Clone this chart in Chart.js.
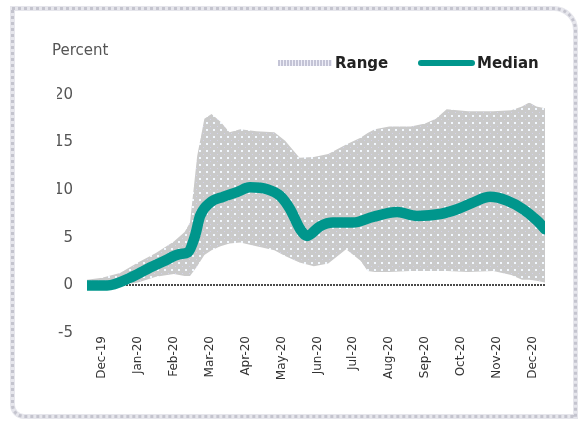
<!DOCTYPE html>
<html>
<head>
  <title>Range and Median</title>
  <script src="https://cdn.jsdelivr.net/npm/chart.js"></script>
  <style>
    body {
      margin: 0;
      background: #fff;
      font-family: "DejaVu Sans", sans-serif;
    }
    #wrap { position: relative; width: 578px; height: 421px; overflow: hidden; }
    #frame {
      position: absolute; left: 10px; top: 6px;
      width: 568px; height: 413px; box-sizing: border-box;
      border: 5px solid #e6e6ec;
      border-radius: 0 24px 0 14px;
    }
    #frame2 {
      position: absolute; left: 11px; top: 7px;
      width: 566px; height: 411px; box-sizing: border-box;
      border: 3px dotted #c4c4ce;
      border-radius: 0 23px 0 13px;
    }
    #chart { position: absolute; left: 0; top: 0; }
    .txt { position: absolute; line-height: 16px; white-space: nowrap; }
    #unit { left: 52px; top: 42px; font-size: 15px; color: #555; }
    .swatch { position: absolute; top: 60px; height: 6px; }
    #swRange {
      left: 278px; width: 54px;
      background: repeating-linear-gradient(90deg, #c4c4d6 0 2px, #eeeef8 2px 3px);
    }
    #swMedian { left: 418px; width: 57px; background: #00968c; border-radius: 3px; }
    .leg { top: 55px; font-size: 15px; font-weight: bold; color: #222; }
  </style>
</head>
<body>
  <div id="wrap">
    <div id="frame"></div>
    <div id="frame2"></div>
    <canvas id="chart" width="578" height="421"></canvas>
    <div class="txt" id="unit">Percent</div>
    <div class="swatch" id="swRange"></div>
    <div class="txt leg" style="left:335px">Range</div>
    <div class="swatch" id="swMedian"></div>
    <div class="txt leg" style="left:477px">Median</div>
  </div>

  <script>
    // month ticks, position 0 = Dec-19
    const monthLabels = ['Dec-19', 'Jan-20', 'Feb-20', 'Mar-20', 'Apr-20', 'May-20', 'Jun-20',
                         'Jul-20', 'Aug-20', 'Sep-20', 'Oct-20', 'Nov-20', 'Dec-20'];

    // median line (x in months from Dec-19)
    const medianMonth = [-0.42, 0.14, 0.78, 1.25, 1.70, 2.17, 2.40, 2.59, 2.73, 3.01, 3.37, 3.76,
                         4.12, 4.60, 4.96, 5.24, 5.52, 5.71, 6.07, 6.43, 6.99, 7.55, 8.22, 8.77,
                         9.42, 9.89, 10.33, 10.81, 11.28, 11.73, 12.12, 12.34];
    const medianValue = [0.0, 0.0, 0.8, 1.7, 2.5, 3.3, 3.5, 5.2, 7.3, 8.7, 9.3, 9.8,
                         10.3, 10.1, 9.4, 8.0, 5.9, 5.2, 6.2, 6.6, 6.6, 7.2, 7.7, 7.3,
                         7.5, 8.0, 8.7, 9.3, 8.9, 8.0, 6.8, 5.9];

    // range band
    const rangeMonth = [-0.42, 0, 0.5, 1, 1.5, 2, 2.3, 2.45, 2.65, 2.85, 3.05, 3.3, 3.55, 3.85,
                        4.3, 4.8, 5.1, 5.5, 5.9, 6.3, 6.8, 7.2, 7.4, 7.6, 8.0, 8.6, 9.0, 9.3,
                        9.6, 10.2, 10.9, 11.4, 11.7, 11.9, 12.1, 12.34];
    const rangeHigh = [0.6, 0.8, 1.3, 2.4, 3.4, 4.6, 5.6, 6.6, 13.6, 17.5, 18.0, 17.2, 16.1, 16.4,
                       16.2, 16.1, 15.2, 13.4, 13.5, 13.8, 14.8, 15.5, 16.0, 16.4, 16.7, 16.7, 17.0, 17.5,
                       18.5, 18.3, 18.3, 18.4, 18.8, 19.2, 18.8, 18.6];
    const rangeLow = [-0.3, -0.2, 0, 0.3, 0.9, 1.2, 1.0, 1.0, 2.0, 3.2, 3.7, 4.1, 4.4, 4.5,
                      4.1, 3.7, 3.1, 2.4, 2.0, 2.3, 3.8, 2.6, 1.5, 1.4, 1.4, 1.5, 1.5, 1.5,
                      1.5, 1.4, 1.5, 1.1, 0.6, 0.6, 0.5, 0.3];

    const ctx = document.getElementById('chart').getContext('2d');

    // grey stipple like the original print
    function dotPattern() {
      const c = document.createElement('canvas');
      c.width = 7; c.height = 7;
      const g = c.getContext('2d');
      g.fillStyle = '#cacaca'; g.fillRect(0, 0, 7, 7);
      g.fillStyle = '#f2f8ff'; g.fillRect(3, 3, 2, 2);
      g.fillStyle = '#d4d4ec'; g.fillRect(0, 0, 1, 1);
      return ctx.createPattern(c, 'repeat');
    }

    const pts = (xs, ys) => xs.map((x, i) => ({ x: x, y: ys[i] }));

    new Chart(ctx, {
      type: 'line',
      data: {
        datasets: [
          {
            label: 'Median',
            data: pts(medianMonth, medianValue),
            borderColor: '#00968c',
            borderWidth: 10.5,
            borderCapStyle: 'round',
            borderJoinStyle: 'round',
            cubicInterpolationMode: 'monotone',
            pointRadius: 0,
            fill: false
          },
          {
            label: 'Range',
            data: pts(rangeMonth, rangeHigh),
            borderWidth: 0,
            borderColor: 'rgba(0,0,0,0)',
            backgroundColor: dotPattern(),
            pointRadius: 0,
            tension: 0,
            fill: '+1'
          },
          {
            label: 'Range low',
            data: pts(rangeMonth, rangeLow),
            borderWidth: 0,
            borderColor: 'rgba(0,0,0,0)',
            pointRadius: 0,
            tension: 0,
            fill: false
          }
        ]
      },
      options: {
        responsive: false,
        animation: false,
        layout: { padding: { left: 57, right: 33, top: 95, bottom: 33 } },
        plugins: { legend: { display: false }, tooltip: { enabled: false } },
        scales: {
          x: {
            type: 'linear',
            min: -0.42,
            max: 12.34,
            grid: { display: false, drawTicks: false },
            border: { display: false },
            afterBuildTicks: s => { s.ticks = monthLabels.map((l, i) => ({ value: i })); },
            afterFit: s => { s.height = 55; },
            ticks: {
              autoSkip: false,
              minRotation: 90,
              maxRotation: 90,
              padding: 3,
              color: '#333',
              font: { family: 'DejaVu Sans', size: 12 },
              callback: v => monthLabels[v]
            }
          },
          y: {
            min: -5,
            max: 20,
            afterFit: s => { s.width = 30; },
            ticks: {
              stepSize: 5,
              padding: 14,
              color: '#555',
              font: { family: 'DejaVu Sans', size: 15 }
            },
            grid: {
              drawTicks: false,
              lineWidth: 2,
              color: c => (c.tick && c.tick.value === 0) ? '#4a4a4a' : 'rgba(0,0,0,0)'
            },
            border: { display: false, dash: [2, 1] }
          }
        }
      }
    });
  </script>
</body>
</html>
